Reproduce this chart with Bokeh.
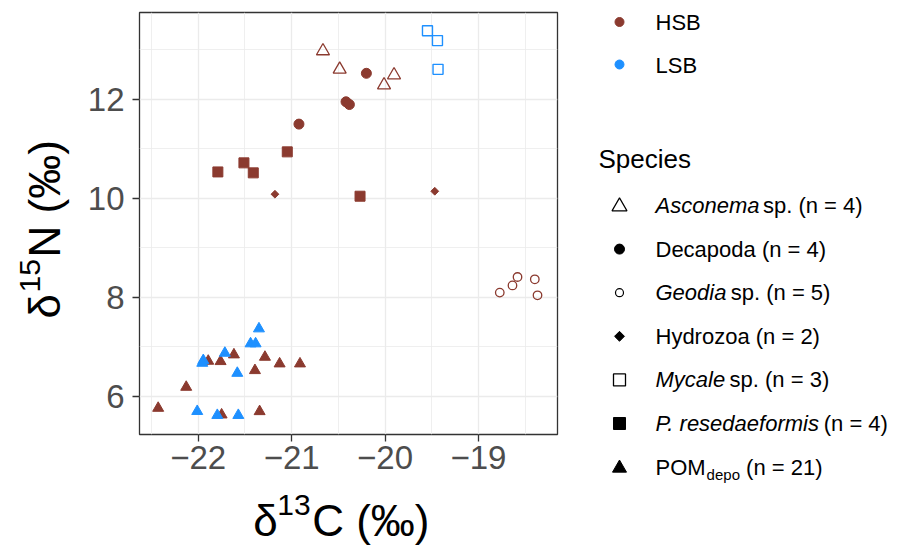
import math
from bokeh.plotting import figure
from bokeh.layouts import row, column
from bokeh.models import Range1d, FixedTicker
from bokeh.core.properties import value
from bokeh.embed import file_html
from bokeh.resources import INLINE

# ---------------- data ----------------
sites = ["HSB", "LSB"]
site_colors = ["#8B3A2F", "#1E90FF"]

asconema_x = [-20.665, -20.486, -19.904, -20.011]
asconema_y = [12.97, 12.60, 12.485, 12.283]

decapoda_x = [-20.20, -20.418, -20.382, -20.922]
decapoda_y = [12.52, 11.945, 11.89, 11.495]

geodia_x = [-18.772, -18.636, -18.582, -18.397, -18.368]
geodia_y = [8.095, 8.24, 8.41, 8.364, 8.04]

hydrozoa_x = [-21.179, -19.468]
hydrozoa_y = [10.08, 10.14]

mycale_x = [-19.546, -19.439, -19.433]
mycale_y = [13.38, 13.18, 12.60]

pres_x = [-21.047, -21.511, -21.411, -21.79, -20.268]
pres_y = [10.935, 10.713, 10.511, 10.53, 10.04]

pom_hsb_x = [-22.429, -22.129, -21.893, -21.761, -21.618, -21.286, -21.129, -20.911, -21.393, -21.75, -21.343]
pom_hsb_y = [5.764, 6.188, 6.714, 6.707, 6.842, 6.794, 6.66, 6.66, 6.525, 5.63, 5.697]
pom_lsb_x = [-21.35, -21.44, -21.386, -21.715, -21.946, -21.957, -21.582, -22.011, -21.796, -21.571]
pom_lsb_y = [7.367, 7.065, 7.065, 6.875, 6.727, 6.673, 6.47, 5.70, 5.62, 5.62]

x_ticks = [-22, -21, -20, -19]
x_minor = [-22.5, -21.5, -20.5, -19.5, -18.5]
y_ticks = [6, 8, 10, 12]
y_minor = [5, 7, 9, 11, 13]

x_title = ["δ", "13", "C (‰)"]
y_title = ["δ", "15", "N (‰)"]

species_title = "Species"
# (italic part, plain part, subscript part, suffix)
species_italic = ["Asconema", "", "Geodia", "", "Mycale", "P. resedaeformis", ""]
species_plain = ["", "Decapoda", "", "Hydrozoa", "", "", "POM"]
species_sub = ["", "", "", "", "", "", "depo"]
species_suffix = [" sp. (n = 4)", " (n = 4)", " sp. (n = 5)", " (n = 2)", " sp. (n = 3)", " (n = 4)", " (n = 21)"]

BROWN, BLUE = site_colors
FONT = "Liberation Sans"


def blank_fig(w, h, x0, x1, y0, y1):
    f = figure(width=w, height=h, output_backend="svg", toolbar_location=None, title=None,
               x_range=Range1d(x0, x1), y_range=Range1d(y0, y1), min_border=0,
               x_axis_location=None, y_axis_location=None, frame_align=False)
    f.outline_line_color = None
    f.background_fill_color = "white"
    f.border_fill_color = "white"
    f.xgrid.visible = False
    f.ygrid.visible = False
    return f


# layout geometry (canvas pixels)
W_YT = 75          # y-title strip width
W_LEFT = 580       # left block width (y-title + plot)
H_TOP = 485        # plot height (x-title strip below)
FL, FR, FT, FB = 139, 557, 12, 434

p = figure(width=W_LEFT - W_YT, height=H_TOP, output_backend="svg", toolbar_location=None,
           title=None, frame_align=False,
           x_range=Range1d(-22.629, -18.154), y_range=Range1d(5.232, 13.747),
           min_border_left=FL - W_YT, min_border_right=W_LEFT - FR, min_border_top=FT,
           min_border_bottom=H_TOP - FB)
p.background_fill_color = "white"
p.border_fill_color = "white"
p.outline_line_color = "#333333"
p.outline_line_width = 1.3

p.xaxis.ticker = FixedTicker(ticks=x_ticks, minor_ticks=x_minor)
p.yaxis.ticker = FixedTicker(ticks=y_ticks, minor_ticks=y_minor)
for ax in (p.xaxis, p.yaxis):
    ax.axis_line_color = None
    ax.major_tick_line_color = "#333333"
    ax.major_tick_line_width = 1.3
    ax.major_tick_out = 7
    ax.major_tick_in = 0
    ax.minor_tick_line_color = None
    ax.major_label_text_font = FONT
    ax.major_label_text_font_size = "33px"
    ax.major_label_text_color = "#4D4D4D"
p.yaxis.major_label_standoff = 8
p.xaxis.major_label_standoff = 4
for g in (p.xgrid, p.ygrid):
    g.grid_line_color = "#EBEBEB"
    g.grid_line_width = 1.3
    g.minor_grid_line_color = "#EBEBEB"
    g.minor_grid_line_width = 0.8

# points
p.scatter(pom_hsb_x, pom_hsb_y, marker="triangle", size=11, fill_color=BROWN, line_color=BROWN)
p.scatter(pom_lsb_x, pom_lsb_y, marker="triangle", size=11, fill_color=BLUE, line_color=BLUE)
p.scatter(asconema_x, asconema_y, marker="triangle", size=13, fill_color=None, line_color=BROWN, line_width=1.3)
p.scatter(decapoda_x, decapoda_y, marker="circle", size=10, fill_color=BROWN, line_color=BROWN)
p.scatter(geodia_x, geodia_y, marker="circle", size=8.5, fill_color=None, line_color=BROWN, line_width=1.3)
p.scatter(hydrozoa_x, hydrozoa_y, marker="square", angle=math.pi / 4, size=5.5, fill_color=BROWN, line_color=BROWN)
p.scatter(mycale_x, mycale_y, marker="square", size=10, fill_color=None, line_color=BLUE, line_width=1.4)
p.scatter(pres_x, pres_y, marker="square", size=10, fill_color=BROWN, line_color=BROWN)

# ---------------- axis-title strips (anchors at the visual cap centre) ----------------
yt = blank_fig(W_YT, H_TOP, 0, W_YT, H_TOP, 0)
yt.text([44, 29, 44], [318, 292, 257], text=y_title, angle=math.pi / 2,
        text_font=value(FONT), text_font_size=["44px", "30px", "44px"],
        text_align="left", text_baseline="alphabetic", text_color="black")

xt = blank_fig(W_LEFT, 550 - H_TOP, 0, W_LEFT, 550, H_TOP)
xt.text([252.7, 276.7, 311.7], [520, 504, 520], text=x_title,
        text_font=value(FONT), text_font_size=["44px", "30px", "44px"],
        text_align="left", text_baseline="alphabetic", text_color="black")

# ---------------- legend panel ----------------
W_LEG = 902 - W_LEFT
leg = blank_fig(W_LEG, 550, 0, W_LEG, 550, 0)

ARIAL = {'A': 667, 's': 500, 'c': 500, 'o': 556, 'n': 556, 'e': 556, 'm': 833, 'a': 556, ' ': 278,
         'p': 556, '.': 278, '(': 333, ')': 333, '=': 584, 'G': 778, 'd': 556, 'i': 222, 'M': 833,
         'y': 500, 'l': 222, 'P': 667, 'r': 333, 'f': 278, 'D': 722, 'H': 722, 'z': 500, 'O': 778}


def tw(s, size, k=1.0):
    return sum(ARIAL.get(ch, 556) for ch in s) * size / 1000.0 * k


OX = W_LEFT
SYM_X = 619 - OX
TXT_X = 655 - OX
TS = 22
SUB = 15

site_y = [21.5, 64]
leg.scatter([SYM_X] * 2, site_y, marker="circle", size=9, fill_color=site_colors, line_color=site_colors)
leg.text([TXT_X] * 2, [yy + 0.5 for yy in site_y], text=sites, text_font=value(FONT),
         text_font_size=value(f"{TS}px"), text_baseline="alphabetic", text_color="black")

leg.text([598 - OX], [158.3], text=[species_title], text_font=value(FONT),
         text_font_size=value("26px"), text_baseline="alphabetic", text_color="black")

row_y = [205 + 43.6 * i for i in range(7)]
it_x, it_y, it_t = [], [], []
pl_x, pl_y, pl_t = [], [], []
sb_x, sb_y, sb_t = [], [], []
for i in range(7):
    yb = row_y[i]
    x0 = TXT_X
    if species_italic[i]:
        it_x.append(x0); it_y.append(yb); it_t.append(species_italic[i])
        x0 += tw(species_italic[i], TS, 0.975)
    if species_plain[i]:
        pl_x.append(x0); pl_y.append(yb); pl_t.append(species_plain[i])
        x0 += tw(species_plain[i], TS)
    if species_sub[i]:
        sb_x.append(x0 + 1); sb_y.append(yb + 7); sb_t.append(species_sub[i])
        x0 += tw(species_sub[i], SUB) + 1
    suf = species_suffix[i]
    lead = len(suf) - len(suf.lstrip(" "))
    x0 += tw(" " * lead, TS)
    pl_x.append(x0); pl_y.append(yb); pl_t.append(suf.lstrip(" "))

leg.text(it_x, it_y, text=it_t, text_font=value(FONT), text_font_size=value(f"{TS}px"),
         text_font_style="italic", text_baseline="alphabetic", text_color="black")
leg.text(pl_x, pl_y, text=pl_t, text_font=value(FONT), text_font_size=value(f"{TS}px"),
         text_baseline="alphabetic", text_color="black")
leg.text(sb_x, sb_y, text=sb_t, text_font=value(FONT), text_font_size=value(f"{SUB}px"),
         text_baseline="alphabetic", text_color="black")

# legend symbols (black)
leg.scatter([SYM_X], [row_y[0] + 1], marker="triangle", size=15, fill_color=None, line_color="black", line_width=1.2)
leg.scatter([SYM_X], [row_y[1]], marker="circle", size=10, fill_color="black", line_color="black")
leg.scatter([SYM_X], [row_y[2]], marker="circle", size=8, fill_color=None, line_color="black", line_width=1.2)
leg.scatter([SYM_X], [row_y[3]], marker="square", angle=math.pi / 4, size=7, fill_color="black", line_color="black")
leg.scatter([SYM_X], [row_y[4]], marker="square", size=12, fill_color=None, line_color="black", line_width=1.3)
leg.scatter([SYM_X], [row_y[5]], marker="square", size=12, fill_color="black", line_color="black")
leg.scatter([SYM_X], [row_y[6] + 1], marker="triangle", size=14, fill_color="black", line_color="black")

layout = row(column(row(yt, p), xt), leg)
open("out.html", "w").write(file_html(layout, INLINE))
